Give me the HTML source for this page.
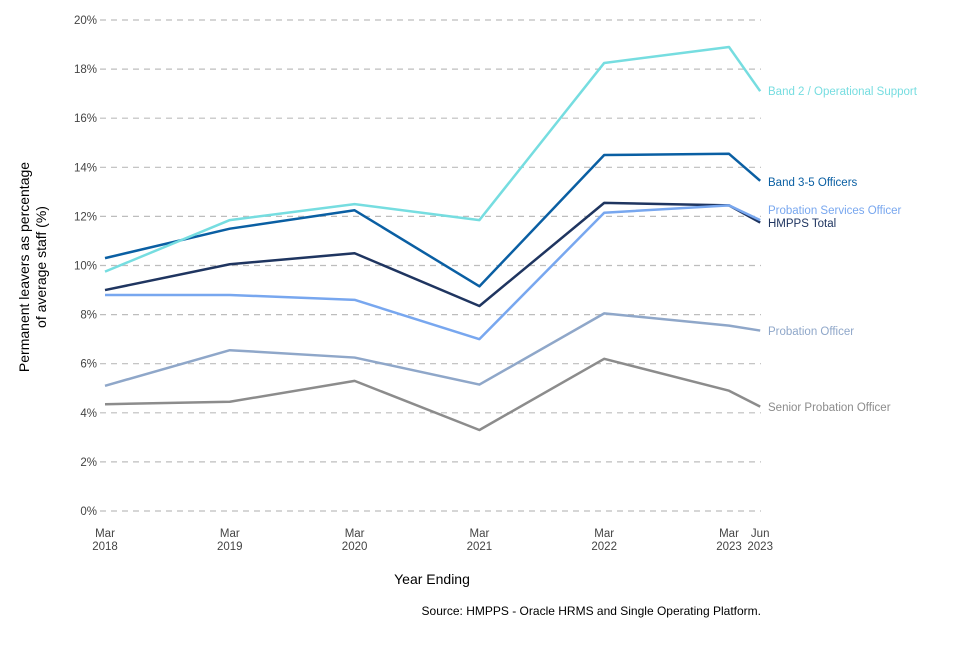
<!DOCTYPE html>
<html><head><meta charset="utf-8"><style>
body{margin:0;background:#fff;font-family:"Liberation Sans",sans-serif}
</style></head><body>
<svg id="chart" width="960" height="640" xmlns="http://www.w3.org/2000/svg" font-family="Liberation Sans, sans-serif">
<g id="grid"></g>
<g id="yaxis"></g>
<g id="xaxis"></g>
<g id="series"></g>
<text transform="translate(37,267) rotate(-90)" text-anchor="middle" font-size="14" fill="#000"><tspan x="0" dy="-8">Permanent leavers as percentage</tspan><tspan x="0" dy="17">of average staff (%)</tspan></text>
<text x="432" y="584" text-anchor="middle" font-size="14" fill="#000">Year Ending</text>
<text x="761" y="615" text-anchor="end" font-size="12" fill="#000">Source: HMPPS - Oracle HRMS and Single Operating Platform.</text>
</svg>
<script>
const times=[2018,2019,2020,2021,2022,2023,2023.25];
const tickTop=["Mar","Mar","Mar","Mar","Mar","Mar","Jun"];
const tickBottom=["2018","2019","2020","2021","2022","2023","2023"];
const yTicks=[0,2,4,6,8,10,12,14,16,18,20];
const seriesNames=["Band 2 / Operational Support","Band 3-5 Officers","Probation Services Officer","HMPPS Total","Probation Officer","Senior Probation Officer"];
const band2=[9.75,11.85,12.5,11.85,18.25,18.9,17.1];
const band35=[10.3,11.5,12.25,9.15,14.5,14.55,13.45];
const pso=[8.8,8.8,8.6,7.0,12.15,12.45,11.85];
const total=[9.0,10.05,10.5,8.35,12.55,12.45,11.75];
const po=[5.1,6.55,6.25,5.15,8.05,7.55,7.35];
const spo=[4.35,4.45,5.3,3.3,6.2,4.9,4.25];
const colors=["#76dde0","#0a5fa3","#78a7ef","#1f3560","#8fa7c9","#8c8c8c"];
const labelY=[91,182,210,223,331,407];
const data=[band2,band35,pso,total,po,spo];
const NS="http://www.w3.org/2000/svg";
const x=t=>105+(t-2018)*124.8;
const y=v=>511-v*24.55;
function mk(tag,attrs,parent,txt){const e=document.createElementNS(NS,tag);for(const k in attrs)e.setAttribute(k,attrs[k]);if(txt!==undefined)e.textContent=txt;parent.appendChild(e);return e;}
const grid=document.getElementById('grid'),ya=document.getElementById('yaxis'),xa=document.getElementById('xaxis'),sg=document.getElementById('series');
yTicks.forEach(v=>{
 const l=mk('line',{x1:100,x2:761,y1:y(v),y2:y(v),stroke:'#bdbdbd','stroke-width':1.2,'stroke-dasharray':'6,5'},grid);
 
 
 const t=mk('text',{x:97,y:y(v)+4,'text-anchor':'end','font-size':11.5,fill:'#444'},ya,v+'%');
 
 
});
times.forEach((tm,i)=>{
 const t=mk('text',{x:x(tm),y:537,'text-anchor':'middle','font-size':11.5,fill:'#444'},xa);
 
 
 mk('tspan',{x:x(tm),dy:0},t,tickTop[i]);
 mk('tspan',{x:x(tm),dy:13},t,tickBottom[i]);
});
data.slice().reverse().forEach((arr,ri)=>{
 const i=data.length-1-ri;
 const p=mk('polyline',{points:arr.map((v,j)=>x(times[j])+','+y(v)).join(' '),fill:'none',stroke:colors[i],'stroke-width':2.5,'stroke-linejoin':'round'},sg);
 
 
 const t=mk('text',{x:768,y:labelY[i]+4,'font-size':11.5,fill:colors[i]},sg,seriesNames[i]);
 
 
});
</script>
</body></html>
